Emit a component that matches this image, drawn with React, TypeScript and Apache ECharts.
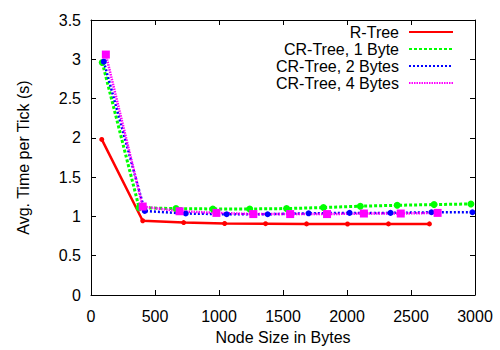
import React, { useEffect, useRef } from "react";
import * as echarts from "echarts";

const seriesNames = ["R-Tree", "CR-Tree, 1 Byte", "CR-Tree, 2 Bytes", "CR-Tree, 4 Bytes"];

const rtreeX = [84, 404, 724, 1044, 1364, 1684, 2004, 2324, 2644];
const rtreeY = [1.98, 0.945, 0.922, 0.91, 0.908, 0.905, 0.904, 0.905, 0.905];

const cr1X = [88, 376, 664, 952, 1240, 1528, 1816, 2104, 2392, 2680, 2968];
const cr1Y = [2.96, 1.11, 1.1, 1.095, 1.095, 1.1, 1.113, 1.13, 1.142, 1.151, 1.159];

const cr2X = [100, 420, 740, 1060, 1380, 1700, 2020, 2340, 2660, 2980];
const cr2Y = [2.97, 1.07, 1.037, 1.028, 1.028, 1.04, 1.045, 1.045, 1.053, 1.053];

const cr4X = [116, 404, 692, 980, 1268, 1556, 1844, 2132, 2420, 2708];
const cr4Y = [3.06, 1.126, 1.066, 1.045, 1.03, 1.03, 1.03, 1.037, 1.037, 1.045];

const xTicks = { min: 0, max: 3000, interval: 500 };
const yTicks = { min: 0, max: 3.5, interval: 0.5 };

const FONT = "'Liberation Sans', Arial, Helvetica, sans-serif";

const pairs = (xs: number[], ys: number[]) => xs.map((x, i) => [x, ys[i]]);

export default function App() {
  const ref = useRef<HTMLDivElement>(null);
  useEffect(() => {
    if (!ref.current) return;
    const chart = echarts.init(ref.current, undefined, { renderer: "svg" });
    const axisCommon = {
      axisLine: { show: true, onZero: false, lineStyle: { color: "#000", width: 1 } },
      axisTick: { show: true, inside: true, length: 5, lineStyle: { color: "#000", width: 1 } },
      splitLine: { show: false },
    };
    chart.setOption({
      animation: false,
      backgroundColor: "#fff",
      textStyle: { fontFamily: FONT },
      grid: { left: 91, right: 25, top: 20, bottom: 54 },
      legend: {
        orient: "vertical",
        right: 41,
        top: 19,
        align: "right",
        itemWidth: 44,
        itemHeight: 10,
        itemGap: 1,
        padding: 5,
        itemStyle: { opacity: 0, borderWidth: 0 },
        textStyle: { fontFamily: FONT, fontSize: 16, color: "#000", lineHeight: 16, padding: [0, 5, 0, 0] },
        data: seriesNames,
      },
      xAxis: [
        {
          type: "value",
          ...xTicks,
          position: "bottom",
          ...axisCommon,
          axisLabel: { color: "#000", fontSize: 16, fontFamily: FONT, margin: 13, formatter: (v: number) => String(v) },
          name: "Node Size in Bytes",
          nameLocation: "middle",
          nameGap: 34,
          nameTextStyle: { color: "#000", fontSize: 16, fontFamily: FONT },
        },
        {
          type: "value",
          ...xTicks,
          position: "top",
          ...axisCommon,
          axisLabel: { show: false },
        },
      ],
      yAxis: [
        {
          type: "value",
          ...yTicks,
          position: "left",
          ...axisCommon,
          axisLabel: { color: "#000", fontSize: 16, fontFamily: FONT, margin: 10, formatter: (v: number) => String(v) },
          name: "Avg. Time per Tick (s)",
          nameLocation: "middle",
          nameGap: 60,
          nameTextStyle: { color: "#000", fontSize: 16, fontFamily: FONT },
        },
        {
          type: "value",
          ...yTicks,
          position: "right",
          ...axisCommon,
          axisLabel: { show: false },
        },
      ],
      series: [
        {
          name: seriesNames[0],
          type: "line",
          data: pairs(rtreeX, rtreeY),
          symbol: "circle",
          symbolSize: 5,
          itemStyle: { color: "#ff0000" },
          lineStyle: { color: "#ff0000", width: 2.5, type: "solid" },
        },
        {
          name: seriesNames[1],
          type: "line",
          data: pairs(cr1X, cr1Y),
          symbol: "circle",
          symbolSize: 7,
          itemStyle: { color: "#00ff00" },
          lineStyle: { color: "#00ff00", width: 3, type: [3, 2] },
        },
        {
          name: seriesNames[2],
          type: "line",
          data: pairs(cr2X, cr2Y),
          symbol: "circle",
          symbolSize: 6,
          itemStyle: { color: "#0000ff" },
          lineStyle: { color: "#0000ff", width: 2.5, type: [2, 2] },
        },
        {
          name: seriesNames[3],
          type: "line",
          data: pairs(cr4X, cr4Y),
          symbol: "rect",
          symbolSize: 8,
          itemStyle: { color: "#ff00ff" },
          lineStyle: { color: "#ff00ff", width: 2.5, type: [1.5, 1] },
        },
      ],
    });
    return () => chart.dispose();
  }, []);
  return <div ref={ref} style={{ width: 500, height: 350, position: "absolute", left: 0, top: 0 }} />;
}
